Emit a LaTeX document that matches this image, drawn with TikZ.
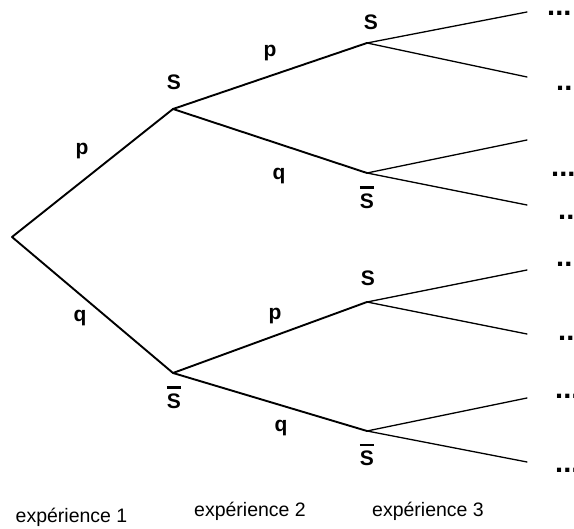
\documentclass[tikz,border=0pt]{standalone}
\usepackage{fontspec}
\setmainfont{Liberation Sans}
\usetikzlibrary{positioning}
\newcommand{\treefont}{\fontsize{21}{21}\selectfont\bfseries}
\newcommand{\Sbar}{{\setbox0\hbox{S}\vbox{\hrule height 2.4pt width \wd0\kern5pt\box0}}}
\tikzset{
  branch/.style={line width=1.9pt, line cap=round},
  leaf/.style={line width=1.3pt, line cap=round},
  statelbl/.style={font=\treefont, inner sep=0pt},
  prob/.style={font=\treefont, inner sep=0pt},
  more/.style={font=\fontsize{29}{29}\selectfont\bfseries, inner sep=0pt, anchor=base west},
  stage/.style={font=\fontsize{19.5}{19.5}\selectfont, inner sep=0pt, anchor=base}
}

\begin{document}
\begin{tikzpicture}[x=1pt, y=1pt]

  \useasboundingbox (0,0) rectangle (574,529);

  % tree points
  \coordinate (root) at (12,292);
  \coordinate (s) at (173,420);
  \coordinate (sb) at (173,156);
  \coordinate (ss) at (367,486);
  \coordinate (ssb) at (367,356);
  \coordinate (sbs) at (367,227);
  \coordinate (sbsb) at (367,98);

  % third experiment ends
  \coordinate (e1) at (527,517);
  \coordinate (e2) at (527,452);
  \coordinate (e3) at (527,389);
  \coordinate (e4) at (527,324);
  \coordinate (e5) at (527,259);
  \coordinate (e6) at (527,195);
  \coordinate (e7) at (527,131);
  \coordinate (e8) at (527,67);

  \draw[branch] (root) -- node[prob, xshift=-10.5pt, yshift=22pt] {p} (s);
  \draw[branch] (root) -- node[prob, xshift=-12.5pt, yshift=-13pt] {q} (sb);
  \draw[branch] (s) -- node[prob, yshift=22.5pt] {p} (ss);
  \draw[branch] (s) -- node[prob, xshift=9pt, yshift=-35pt] {q} (ssb);
  \draw[branch] (sb) -- node[prob, xshift=5pt, yshift=21.5pt] {p} (sbs);
  \draw[branch] (sb) -- node[prob, xshift=11pt, yshift=-26.5pt] {q} (sbsb);

  \draw[leaf] (ss) -- (e1);
  \draw[leaf] (ss) -- (e2);
  \draw[leaf] (ssb) -- (e3);
  \draw[leaf] (ssb) -- (e4);
  \draw[leaf] (sbs) -- (e5);
  \draw[leaf] (sbs) -- (e6);
  \draw[leaf] (sbsb) -- (e7);
  \draw[leaf] (sbsb) -- (e8);

  \node[statelbl, above=19pt of s, xshift=1pt] (ls) {S};
  \node[statelbl, below=13pt of sb, xshift=1pt] (lsb) {\Sbar};
  \node[statelbl, above=13pt of ss, xshift=4pt] (lss) {S};
  \node[statelbl, below=13pt of ssb] (lssb) {\Sbar};
  \node[statelbl, above=16pt of sbs, xshift=1pt] (lsbs) {S};
  \node[statelbl, below=12.5pt of sbsb] (lsbsb) {\Sbar};

  \node[more] (m1) at (547,513.3) {...};
  \node[more] (m2) at (556,438) {...};
  \node[more] (m3) at (551,352) {...};
  \node[more] (m4) at (558,309) {...};
  \node[more] (m5) at (556,262) {...};
  \node[more] (m6) at (558,188) {...};
  \node[more] (m7) at (555,130) {...};
  \node[more] (m8) at (555,56) {...};

  \node[stage] (exp1) at (71.5,6) {expérience 1};
  \node[stage] (exp2) at (250,12) {expérience 2};
  \node[stage] (exp3) at (428,12) {expérience 3};

\end{tikzpicture}
\end{document}
